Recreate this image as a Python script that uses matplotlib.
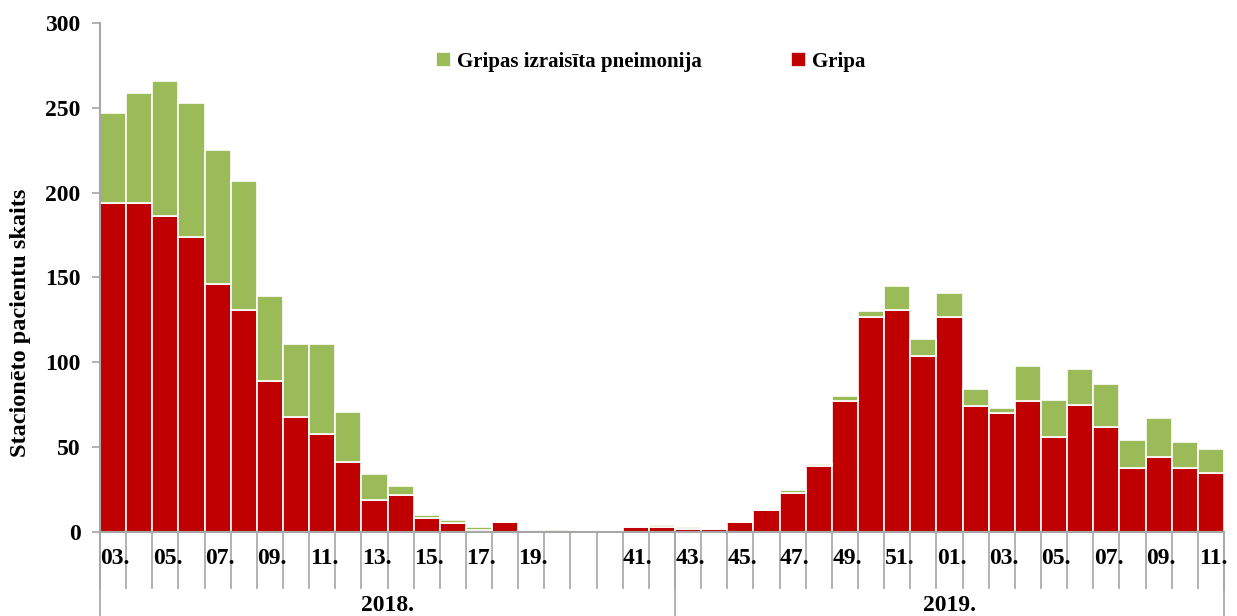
import numpy as np
import matplotlib
matplotlib.use('Agg')
from matplotlib import pyplot as plt
from matplotlib.transforms import blended_transform_factory

# nedēļas (tukšās vietas - starp sezonām)
weeks = ['03', '04', '05', '06', '07', '08', '09', '10', '11', '12', '13', '14',
         '15', '16', '17', '18', '19', '20', '', '',
         '41', '42', '43', '44', '45', '46', '47', '48', '49', '50', '51', '52',
         '01', '02', '03', '04', '05', '06', '07', '08', '09', '10', '11']
years = ['2018.', '2019.']
year_split = 22  # kategorijas indekss, kur sākas 2019. gads

gripa = [194, 194, 186, 174, 146, 131, 89, 68, 58, 41, 19, 22,
         8, 5, 1, 6, 1, 0, 0, 0,
         3, 3, 2, 2, 6, 13, 23, 39, 77, 127, 131, 104,
         127, 74, 70, 77, 56, 75, 62, 38, 44, 38, 35]
kopa = [247, 259, 266, 253, 225, 207, 139, 111, 111, 71, 34, 27,
        10, 7, 3, 6, 1, 1, 0, 0,
        3, 4, 3, 2, 6, 13, 25, 40, 80, 130, 145, 114,
        141, 84, 73, 98, 78, 96, 87, 54, 67, 53, 49]
pneimonija = [k - g for k, g in zip(kopa, gripa)]

red = '#C00000'
green = '#9BBB59'
grey = '#A6A6A6'

plt.rcParams['font.family'] = ['Liberation Serif', 'DejaVu Serif']
plt.rcParams['font.weight'] = 'bold'

fig = plt.figure(figsize=(12.37, 6.16), dpi=100)
ax = fig.add_axes([0.0808, 0.1364, 0.9087, 0.8263])

n = len(weeks)
x = np.arange(n)
ax.bar(x, gripa, width=1.0, color=red, edgecolor='white', linewidth=1.2,
       label='Gripa', zorder=2)
ax.bar(x, pneimonija, bottom=gripa, width=1.0, color=green, edgecolor='white',
       linewidth=1.2, label='Gripas izraisīta pneimonija', zorder=2)

ax.set_xlim(-0.5, n - 0.5)
ax.set_ylim(0, 300)
ax.set_yticks(np.arange(0, 301, 50))
ax.tick_params(axis='y', labelsize=17, length=6, color=grey, width=1.2, pad=8)

for s in ['top', 'right']:
    ax.spines[s].set_visible(False)
for s in ['left', 'bottom']:
    ax.spines[s].set_color(grey)
    ax.spines[s].set_linewidth(1.5)

# robežas starp kategorijām
ax.set_xticks(np.arange(n + 1) - 0.5)
ax.set_xticklabels([])
ax.tick_params(axis='x', length=41, color=grey, width=1.2, direction='out')

trans = blended_transform_factory(ax.transData, ax.transAxes)
for i, w in enumerate(weeks):
    if i % 2 == 0 and w:
        ax.text(i + 0.08, -0.053, w + '.', transform=trans, ha='center',
                va='center', fontsize=17, fontweight='bold')

# gadu līmenis
for xb in [-0.5, year_split - 0.5, n - 0.5]:
    ax.plot([xb, xb], [0, -0.17], transform=trans, color=grey, lw=1.2,
            clip_on=False)
centers = [(-0.5 + year_split - 0.5) / 2, (year_split - 0.5 + n - 0.5) / 2]
for c, y in zip(centers, years):
    ax.text(c, -0.145, y, transform=trans, ha='center', va='center',
            fontsize=17, fontweight='bold')

ax.set_ylabel('Stacionēto pacientu skaits', fontsize=17.5, fontweight='bold')
ax.yaxis.set_label_coords(-0.061, 0.41)

h, l = ax.get_legend_handles_labels()
ax.legend(h[::-1], l[::-1], loc='upper center', bbox_to_anchor=(0.49, 0.98),
          ncol=2, frameon=False, fontsize=15, handlelength=0.7,
          handleheight=0.7, handletextpad=0.3, columnspacing=4.3)

fig.savefig('out.png', dpi=100)
